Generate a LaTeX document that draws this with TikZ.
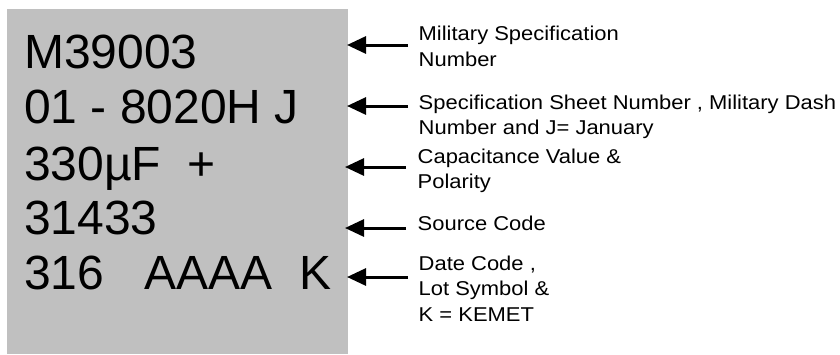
\documentclass[tikz,border=0pt]{standalone}
\usepackage{fontspec}
\setmainfont{Liberation Sans}
\usetikzlibrary{arrows.meta}
\newfontfamily\bigfam{Liberation Sans}
\newfontfamily\labfam[FakeStretch=1.098]{Liberation Sans}
\newcommand\bigfont{\bigfam\fontsize{48}{55}\selectfont}
\newcommand\labfont{\labfam\fontsize{20}{25.7}\selectfont}
\newcommand\twolines[2]{\vtop{\baselineskip=25.7pt\hbox{#1}\hbox{#2}}}
\newcommand\threelines[3]{\vtop{\baselineskip=25.7pt\hbox{#1}\hbox{#2}\hbox{#3}}}
\definecolor{boxgray}{HTML}{C0C0C0}
\begin{document}
\begin{tikzpicture}[x=1pt,y=-1pt,
  chip/.style={fill=boxgray, draw=none},
  big/.style={anchor=base west, inner sep=0pt, font=\bigfont},
  lab/.style={anchor=base west, inner sep=0pt, font=\labfont},
  ptr/.style={line width=3pt, -{Triangle[length=19pt,width=17pt]}}]
\useasboundingbox (0,0) rectangle (840,354);
\fill[chip] (7,9) rectangle (348,354);
% marking lines
\node[big] (m1) at (24,68) {M39003};
\node[big] (m2) at (24,123) {01 - 8020H J};
\node[big] (m3) at (24,180) {330µF~~+};
\node[big] (m4) at (24,234.5) {31433};
\node[big] (m5) at (24,289) {316~~~AAAA~~K};
% labels
\node[lab] (l1) at (418.5,40.7) {\twolines{Military Specification}{Number}};
\node[lab] (l2) at (418.5,109) {\twolines{Specification Sheet Number , Military Dash}{Number and J= January}};
\node[lab] (l3) at (417.5,163) {\twolines{Capacitance Value \&}{Polarity}};
\node[lab] (l4) at (417.5,230) {Source Code};
\node[lab] (l5) at (418.5,270) {\threelines{Date Code ,}{Lot Symbol \&}{K = KEMET}};
% arrow ends
\coordinate (t1) at (408,45);   \coordinate (h1) at (347,45);
\coordinate (t2) at (408,106);  \coordinate (h2) at (347,106);
\coordinate (t3) at (406,167);  \coordinate (h3) at (345,167);
\coordinate (t4) at (406,228);  \coordinate (h4) at (345,228);
\coordinate (t5) at (408,277);  \coordinate (h5) at (347,277);
\foreach \i in {1,...,5} \draw[ptr] (t\i) -- (h\i);
\end{tikzpicture}
\end{document}
